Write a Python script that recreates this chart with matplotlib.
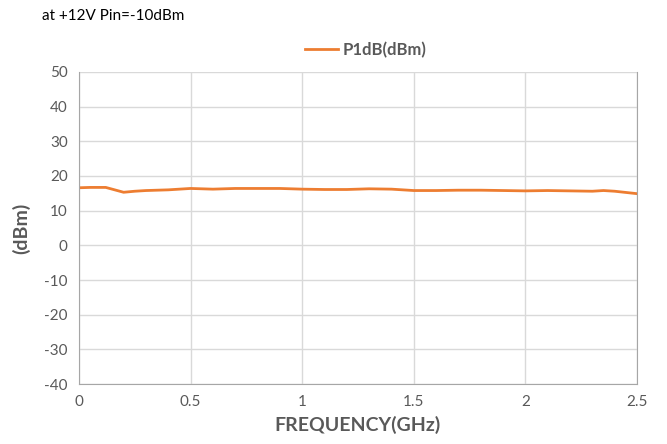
import matplotlib
matplotlib.use("Agg")
import matplotlib.pyplot as plt

freq_ghz = [0.0, 0.05, 0.1, 0.12, 0.16, 0.2, 0.25, 0.3, 0.4, 0.5, 0.6, 0.7, 0.8, 0.9,
            1.0, 1.1, 1.2, 1.3, 1.4, 1.5, 1.6, 1.7, 1.8, 1.9, 2.0, 2.1, 2.2, 2.3,
            2.35, 2.4, 2.5]
p1db_dbm = [16.6, 16.7, 16.7, 16.7, 16.0, 15.3, 15.6, 15.8, 16.0, 16.4, 16.2, 16.4, 16.4, 16.4,
            16.2, 16.1, 16.1, 16.3, 16.2, 15.8, 15.8, 15.9, 15.9, 15.8, 15.7, 15.8, 15.7, 15.6,
            15.8, 15.6, 14.9]

x_ticks = [0, 0.5, 1, 1.5, 2, 2.5]
x_labels = ["0", "0.5", "1", "1.5", "2", "2.5"]
y_ticks = list(range(-40, 51, 10))

plt.rcParams['font.family'] = ['Lato', 'DejaVu Sans']
plt.rcParams['axes.unicode_minus'] = False

fig = plt.figure(figsize=(6.67, 4.44), dpi=100)
ax = fig.add_axes([0.1184, 0.135, 0.8366, 0.703])

ax.plot(freq_ghz, p1db_dbm, color='#ED7D31', linewidth=2.0, label='P1dB(dBm)')

ax.set_xlim(0, 2.5)
ax.set_ylim(-40, 50)
ax.set_xticks(x_ticks)
ax.set_xticklabels(x_labels)
ax.set_yticks(y_ticks)
ax.grid(True, color='#D9D9D9', linewidth=1)
ax.set_axisbelow(True)
ax.spines['top'].set_visible(False)
for s in ['left', 'bottom', 'right']:
    ax.spines[s].set_color('#A6A6A6')
ax.tick_params(length=0, labelsize=11, colors='#595959', pad=8)

ax.set_xlabel('FREQUENCY(GHz)', fontsize=14, fontweight='bold', color='#595959', labelpad=5)
ax.set_ylabel('(dBm)', fontsize=14, fontweight='bold', color='#595959', labelpad=10)

fig.text(0.063, 0.965, 'at +12V Pin=-10dBm', fontsize=11, va='center', ha='left', color='#000000')
leg = ax.legend(loc='center', bbox_to_anchor=(0.514, 1.07), frameon=False,
                handlelength=2.0, handletextpad=0.3, prop={'size': 12, 'weight': 'bold'})
for t in leg.get_texts():
    t.set_color('#595959')

fig.savefig('out.png', dpi=100)
